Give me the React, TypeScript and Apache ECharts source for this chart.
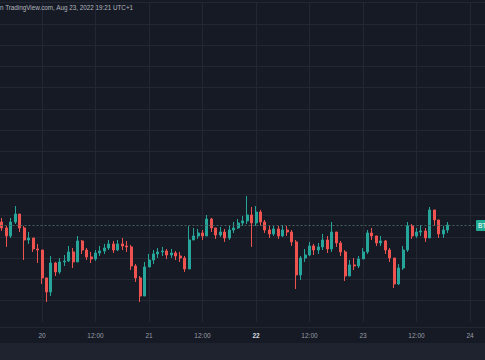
import { useEffect, useRef } from "react";
import * as echarts from "echarts";

// Hourly BTC/USD candles, hours counted from Aug 20 00:00 (UTC+1)
const startHour = -9;
const firstOpen = 21539;
const closes = [
  21483, 21408, 21539, 21614, 21483, 21370, 21389, 21286, 21276, 21014,
  20882, 21154, 21070, 21164, 21173, 21258, 21164, 21361, 21276, 21211,
  21192, 21248, 21267, 21295, 21333, 21276, 21333, 21314, 21305, 21126,
  21014, 20844, 21117, 21182, 21239, 21258, 21267, 21229, 21248, 21220,
  21201, 21098, 21370, 21408, 21436, 21408, 21567, 21483, 21417, 21445,
  21389, 21464, 21483, 21530, 21549, 21605, 21530, 21633, 21539, 21464,
  21427, 21474, 21408, 21464, 21445, 21352, 21042, 21201, 21229, 21314,
  21276, 21305, 21370, 21286, 21445, 21342, 21258, 21032, 21136, 21126,
  21192, 21258, 21436, 21408, 21342, 21361, 21276, 21201, 20957, 21107,
  21276, 21502, 21408, 21445, 21455, 21389, 21652, 21558, 21427, 21464,
  21511,
];
const highs = [
  21577, 21502, 21577, 21689, 21596, 21502, 21445, 21389, 21333, 21276,
  21014, 21220, 21164, 21201, 21229, 21314, 21295, 21408, 21370, 21295,
  21258, 21276, 21314, 21333, 21370, 21361, 21370, 21389, 21361, 21323,
  21145, 21032, 21164, 21239, 21276, 21295, 21305, 21286, 21286, 21267,
  21258, 21220, 21502, 21483, 21474, 21464, 21605, 21577, 21483, 21492,
  21474, 21502, 21539, 21567, 21596, 21783, 21680, 21689, 21652, 21558,
  21502, 21511, 21502, 21511, 21502, 21464, 21370, 21220, 21286, 21352,
  21333, 21342, 21427, 21408, 21539, 21427, 21361, 21276, 21182, 21201,
  21220, 21295, 21464, 21483, 21408, 21408, 21370, 21295, 21201, 21145,
  21314, 21539, 21520, 21483, 21511, 21483, 21680, 21652, 21558, 21502,
  21539,
];
const lows = [
  21455, 21305, 21389, 21520, 21445, 21182, 21333, 21258, 21154, 20957,
  20788, 20844, 21032, 21051, 21126, 21164, 21107, 21182, 21239, 21182,
  21154, 21173, 21220, 21239, 21276, 21248, 21267, 21276, 21258, 21089,
  20976, 20788, 20900, 21126, 21145, 21201, 21220, 21192, 21201, 21182,
  21164, 21070, 21126, 21370, 21380, 21370, 21408, 21445, 21380, 21399,
  21352, 21370, 21436, 21474, 21502, 21520, 21305, 21502, 21502, 21436,
  21389, 21408, 21380, 21399, 21408, 21314, 20910, 20995, 21164, 21220,
  21229, 21239, 21276, 21248, 21258, 21305, 21220, 20985, 21032, 21089,
  21107, 21201, 21239, 21370, 21314, 21314, 21239, 21164, 20919, 20948,
  21089, 21258, 21380, 21389, 21408, 21352, 21389, 21502, 21389, 21389,
  21436,
];
const tickHours = [0, 12, 24, 36, 48, 60, 72, 84, 96];
const tickLabels = ["20", "12:00", "21", "12:00", "22", "12:00", "23", "12:00", "24"];
const boldTickLabel = "22";
const headerText = "n TradingView.com, Aug 23, 2022 19:21 UTC+1";
const tagText = "BT";

export default function App() {
  const ref = useRef<HTMLDivElement>(null);
  useEffect(() => {
    document.body.style.margin = "0";
    const chart = echarts.init(ref.current!, null, { renderer: "svg" });
    const data = closes.map((c, i) => {
      const o = i === 0 ? firstOpen : closes[i - 1];
      const h = Math.max(highs[i], o, c);
      const l = Math.min(lows[i], o, c);
      return [startHour + i, o, c, l, h];
    });
    const last = closes[closes.length - 1];
    chart.setOption({
      animation: false,
      backgroundColor: "#161a25",
      grid: {
        left: -11.5,
        right: -38.5,
        top: 2.5,
        bottom: 38,
        containLabel: false,
        outerBoundsMode: "none",
      },
      xAxis: {
        type: "value",
        min: -12,
        max: 108,
        interval: 12,
        axisLine: { show: false },
        axisTick: { show: false },
        splitLine: { show: true, lineStyle: { color: "#232733", width: 1 } },
        axisLabel: {
          margin: 9.5,
          color: "#9a9da6",
          fontSize: 6.5,
          fontFamily: "Liberation Sans",
          formatter: (v: number) => {
            const idx = tickHours.indexOf(v);
            if (idx < 0) return "";
            const t = tickLabels[idx];
            return t === boldTickLabel ? `{b|${t}}` : t;
          },
          rich: {
            b: { fontWeight: "bold", color: "#d8dae0", fontSize: 6.5, fontFamily: "Liberation Sans" },
          },
        },
      },
      yAxis: {
        type: "value",
        min: 20600,
        max: 23600,
        interval: 200,
        position: "right",
        axisLabel: { show: false },
        axisLine: { show: false },
        axisTick: { show: false },
        splitLine: { show: true, showMinLine: false, lineStyle: { color: "#232733", width: 1 } },
      },
      series: [
        {
          type: "candlestick",
          data,
          encode: { x: 0, y: [1, 2, 3, 4] },
          barWidth: 2.5,
          itemStyle: {
            color: "#26a69a",
            color0: "#ef5350",
            borderColor: "#26a69a",
            borderColor0: "#ef5350",
            borderWidth: 1,
          },
          markLine: {
            silent: true,
            symbol: ["none", "none"],
            label: { show: false },
            lineStyle: { color: "#46605f", type: [2, 2], width: 1 },
            data: [{ yAxis: last }],
          },
        },
      ],
      graphic: [
        {
          type: "line",
          shape: { x1: 0, y1: 327.5, x2: 485, y2: 327.5 },
          style: { stroke: "#232733", lineWidth: 1 },
          z: 10,
        },
        {
          type: "rect",
          shape: { x: 0, y: 343, width: 485, height: 17 },
          style: { fill: "#1f2330" },
          z: 10,
        },
        {
          type: "text",
          x: 0,
          y: 7,
          style: {
            text: headerText,
            fill: "#b2b5be",
            fontSize: 6.3,
            fontFamily: "Liberation Sans",
            verticalAlign: "middle",
          },
          z: 10,
        },
        {
          type: "rect",
          shape: { x: 476, y: 220, width: 12, height: 11, r: 1 },
          style: { fill: "#22ab94" },
          z: 10,
        },
        {
          type: "text",
          x: 478,
          y: 225.5,
          style: {
            text: tagText,
            fill: "#ffffff",
            fontSize: 6.5,
            fontFamily: "Liberation Sans",
            verticalAlign: "middle",
          },
          z: 11,
        },
      ],
    });
    return () => chart.dispose();
  }, []);
  return <div ref={ref} style={{ width: 485, height: 360 }} />;
}
